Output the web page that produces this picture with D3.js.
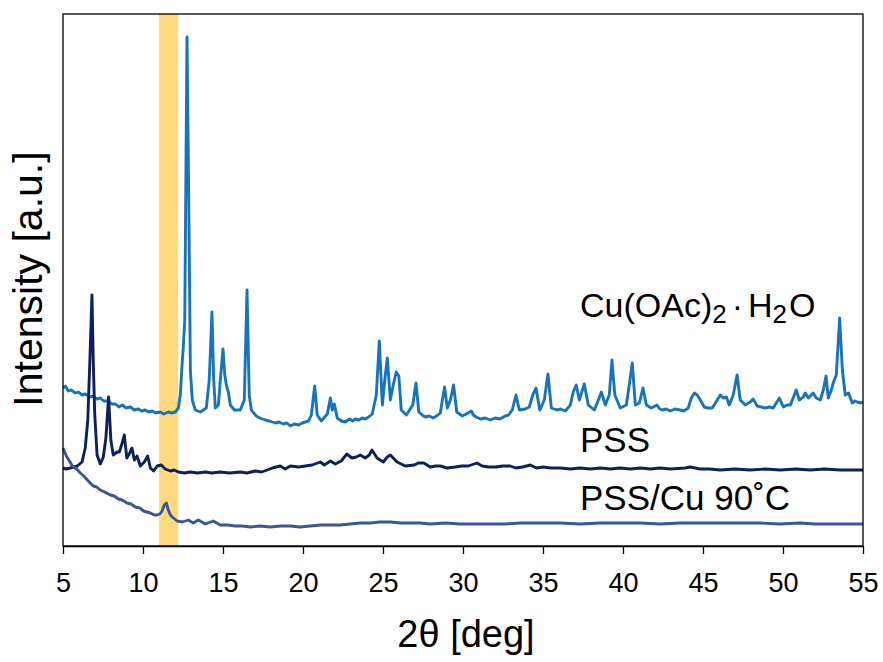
<!DOCTYPE html>
<html>
<head>
<meta charset="utf-8">
<script src="https://cdn.jsdelivr.net/npm/d3@7"></script>
<style>
  body { margin: 0; background: #fff; }
  text { font-family: "Liberation Sans", Arial, sans-serif; fill: #000; }
</style>
</head>
<body>
<svg id="chart"></svg>
<script>
// XRD patterns: [2theta (deg), intensity (a.u., stacked offset)]
var cuAcetate = [
  [5.0,158],[5.15,160],[5.33,155],[5.5,156],[5.77,153],[5.95,154],[6.21,151],[6.4,152],[6.71,149],
  [6.9,150],[7.1,147],[7.33,148],[7.55,145],[7.83,145],[8.05,142],[8.27,142],[8.5,139],[8.71,141],
  [8.95,138],[9.21,139],[9.45,136],[9.71,137],[9.92,135],[10.14,136],[10.35,134],[10.58,135],
  [10.8,133],[11.08,134],[11.3,132],[11.58,134],[11.8,133],[12.02,134],
  [12.21,138],[12.33,151],[12.46,186],[12.52,199],[12.61,226],[12.75,509],[12.86,346],[12.96,176],
  [13.08,146],[13.27,136],[13.58,134],[13.96,138],[14.14,166],[14.31,234],[14.42,166],[14.52,138],
  [14.71,141],[14.86,171],[15.0,197],[15.11,171],[15.21,161],[15.33,154],[15.46,141],[15.71,136],
  [16.08,136],[16.33,146],[16.5,256],[16.64,151],[16.77,136],[17.08,130],[17.3,128],[17.64,126],
  [17.9,125],[18.27,123],[18.5,124],[18.77,122],[19.0,123],[19.21,120],[19.45,122],[19.71,121],
  [19.95,123],[20.14,124],[20.35,125],[20.52,131],[20.73,160],[20.89,131],[21.14,125],
  [21.52,132],[21.71,148],[21.83,136],[21.96,142],[22.14,128],[22.4,125],[22.64,124],[22.9,127],
  [23.1,125],[23.27,127],[23.5,126],[23.7,128],[23.89,127],[24.1,129],
  [24.33,132],[24.58,151],[24.77,205],[24.96,141],[25.11,166],[25.27,188],[25.46,146],[25.64,161],
  [25.83,174],[25.99,170],[26.14,136],[26.46,131],[26.86,141],[27.06,163],[27.24,134],[27.45,131],
  [27.64,129],[27.9,130],[28.14,128],[28.35,130],[28.58,133],[28.71,146],[28.85,159],[29.02,138],
  [29.21,146],[29.41,161],[29.61,134],[29.96,130],[30.2,132],[30.52,135],[30.65,131],[30.83,129],
  [31.1,127],[31.39,128],[31.7,126],[32.02,128],[32.3,127],[32.64,130],[32.85,131],[33.08,136],
  [33.31,151],[33.52,136],[33.89,137],[34.14,139],[34.36,151],[34.56,158],[34.8,136],[35.08,146],
  [35.31,172],[35.52,138],[35.7,137],[35.89,136],[36.1,137],[36.39,135],[36.71,141],[36.89,154],
  [37.08,161],[37.27,146],[37.58,162],[37.83,141],[38.21,136],[38.46,146],[38.65,154],[38.9,141],
  [39.14,151],[39.31,186],[39.49,151],[39.83,138],[40.21,141],[40.39,161],[40.58,183],[40.77,141],
  [41.02,143],[41.25,158],[41.46,141],[41.77,138],[42.12,141],[42.3,137],[42.46,136],[42.7,137],
  [42.96,135],[43.25,137],[43.58,136],[43.8,135],[44.08,138],[44.27,148],[44.46,153],
  [44.64,151],[44.83,146],[45.08,139],[45.3,138],[45.58,138],[45.89,146],[46.08,151],[46.27,148],
  [46.46,149],[46.64,141],[46.89,151],[47.13,171],[47.33,146],[47.64,141],[47.96,144],[48.13,147],
  [48.39,140],[48.65,139],[48.89,138],[49.15,139],[49.39,138],[49.77,148],[50.02,139],[50.25,141],
  [50.46,141],[50.83,156],[51.02,146],[51.27,149],[51.39,153],[51.58,148],[51.88,153],[52.08,148],
  [52.33,146],[52.52,156],[52.69,170],[52.83,148],[53.02,156],[53.16,164],[53.33,171],[53.54,228],
  [53.71,176],[53.89,151],[54.1,153],[54.33,143],[54.5,145],[54.64,144],[54.85,143],[55.0,144]
];

var pss = [
  [5.0,78],[5.2,77],[5.46,78],[5.7,79],[5.89,80],[6.19,84],[6.39,98],[6.55,126],[6.68,186],
  [6.81,251],[6.89,186],[6.98,133],[7.13,91],[7.33,82],[7.52,89],[7.68,108],[7.85,149],[7.99,106],
  [8.14,91],[8.38,94],[8.52,94],[8.68,102],[8.83,111],[8.99,88],[9.14,92],[9.31,98],[9.46,86],
  [9.63,90],[9.83,80],[10.08,84],[10.29,90],[10.46,78],[10.66,75],[10.89,80],[11.14,81],[11.39,77],
  [11.71,75],[11.95,76],[12.21,74],[12.6,73],[12.96,74],[13.4,73],[13.89,74],[14.3,73],[14.83,74],
  [15.4,73],[16.08,74],[16.5,73],[17.02,75],[17.4,74],[17.77,76],[18.08,78],
  [18.58,80],[18.89,77],[19.21,80],[19.71,79],[20.14,80],[20.58,81],[21.08,84],[21.33,81],
  [21.71,85],[22.02,82],[22.39,85],[22.74,92],[23.06,88],[23.33,89],[23.58,91],[23.89,88],
  [24.14,91],[24.31,96],[24.63,88],[25.02,84],[25.27,89],[25.46,91],[25.88,84],[26.39,80],
  [26.96,81],[27.21,83],[27.54,83],[27.96,79],[28.3,80],[28.58,80],[29.0,78],[29.52,79],[29.9,80],
  [30.33,80],[30.87,83],[31.2,80],[31.6,79],[32.02,79],[32.5,80],[32.96,80],[33.3,78],[33.71,79],
  [34.21,81],[34.58,78],[35.0,79],[35.46,78],[36.1,78],[36.71,77],[37.3,78],[37.96,77],[38.6,78],
  [39.21,77],[39.8,78],[40.46,77],[41.1,78],[41.71,77],[42.3,78],[42.96,77],[43.89,78],[44.2,79],
  [44.83,77],[45.4,77],[46.08,76],[47.0,77],[47.96,76],[48.9,77],[49.83,76],[50.8,77],[51.71,76],
  [52.6,77],[53.58,76],[54.3,76],[55.0,76]
];

var pssCu = [
  [5.0,98],[5.21,90],[5.4,85],[5.58,80],[5.85,77],[6.08,73],[6.3,70],[6.52,66],[6.7,63],[6.89,60],
  [7.1,59],[7.33,56],[7.6,54],[7.96,51],[8.2,50],[8.46,47],[8.7,46],[9.0,43],[9.25,42],[9.52,39],
  [9.8,38],[10.04,35],[10.25,34],[10.46,33],[10.7,31],[10.88,31],[11.05,32],[11.19,35],[11.33,41],
  [11.46,43],[11.58,36],[11.71,31],[11.9,28],[12.13,25],[12.46,24],[12.83,26],[13.14,23],
  [13.46,26],[13.89,22],[14.39,25],[14.83,21],[15.3,21],[15.77,20],[16.2,20],[16.71,19],
  [17.3,20],[17.96,19],[18.6,20],[19.21,20],[19.8,19],[20.46,20],[21.1,21],[21.71,21],[22.3,21],
  [22.96,22],[23.6,23],[24.21,23],[24.8,24],[25.46,24],[26.1,23],[26.71,23],[27.3,23],[27.96,22],
  [28.9,23],[29.83,22],[30.8,22],[31.71,22],[32.6,22],[33.58,23],[34.8,23],[36.08,23],[37.3,22],
  [38.58,23],[39.8,23],[41.08,23],[42.3,22],[43.58,23],[44.8,23],[46.08,23],[47.3,23],[48.58,23],
  [49.8,22],[51.08,23],[52.0,22],[52.96,22],[54.0,22],[55.0,22]
];

var xTicks = [5, 10, 15, 20, 25, 30, 35, 40, 45, 50, 55];
var band = [11.0, 12.2];   // shaded 2theta window

var svgWidth = 883, svgHeight = 662;
var margin = { top: 14, right: 20, bottom: 116, left: 63 };
var width = svgWidth - margin.left - margin.right;
var height = svgHeight - margin.top - margin.bottom;

var svg = d3.select("#chart")
  .attr("width", svgWidth)
  .attr("height", svgHeight);

var g = svg.append("g")
  .attr("transform", "translate(" + margin.left + "," + margin.top + ")");

var x = d3.scaleLinear().domain([5, 55]).range([0, width]);
var y = d3.scaleLinear().domain([0, 532]).range([height, 0]);

g.append("rect")
  .attr("x", x(band[0]))
  .attr("y", 0)
  .attr("width", x(band[1]) - x(band[0]))
  .attr("height", height)
  .attr("fill", "#ffd97b");

var line = d3.line()
  .x(function(d) { return x(d[0]); })
  .y(function(d) { return y(d[1]); });

var series = [
  { data: cuAcetate, color: "#1873bf" },
  { data: pss, color: "#0c1f5e" },
  { data: pssCu, color: "#3b5698" }
];

g.selectAll("path.trace")
  .data(series)
  .enter()
  .append("path")
  .attr("class", "trace")
  .attr("d", function(d) { return line(d.data); })
  .attr("fill", "none")
  .attr("stroke", function(d) { return d.color; })
  .attr("stroke-width", 2.9)
  .attr("stroke-linejoin", "round");

// frame
g.append("rect")
  .attr("width", width)
  .attr("height", height)
  .attr("fill", "none")
  .attr("stroke", "#000")
  .attr("stroke-width", 1.3);

var xAxis = g.append("g")
  .attr("transform", "translate(0," + height + ")")
  .call(d3.axisBottom(x).tickValues(xTicks).tickSize(8).tickPadding(19).tickSizeOuter(0));
xAxis.select(".domain").attr("stroke-width", 1.3);
xAxis.selectAll(".tick line").attr("stroke-width", 1.3);
xAxis.selectAll(".tick text")
  .style("font-size", "27px")
  .attr("fill", "#000");

svg.append("text")
  .attr("x", 466)
  .attr("y", 647)
  .attr("text-anchor", "middle")
  .style("font-size", "38px")
  .text("2θ [deg]");

svg.append("text")
  .attr("transform", "translate(42,279) rotate(-90)")
  .attr("text-anchor", "middle")
  .style("font-size", "41px")
  .text("Intensity [a.u.]");

// trace labels
var cuLabel = svg.append("text")
  .attr("x", 580)
  .attr("y", 317)
  .style("font-size", "34px");
cuLabel.append("tspan").text("Cu(OAc)");
cuLabel.append("tspan").attr("dy", 6).style("font-size", "26px").text("2");
cuLabel.append("tspan").attr("dy", -6).attr("dx", 5).text("·");
cuLabel.append("tspan").attr("dx", 5).text("H");
cuLabel.append("tspan").attr("dy", 6).style("font-size", "26px").text("2");
cuLabel.append("tspan").attr("dy", -6).attr("dx", 2).text("O");

svg.append("text")
  .attr("x", 580)
  .attr("y", 452)
  .style("font-size", "35px")
  .text("PSS");

svg.append("text")
  .attr("x", 580)
  .attr("y", 510)
  .style("font-size", "35px")
  .text("PSS/Cu 90˚C");
</script>
</body>
</html>
